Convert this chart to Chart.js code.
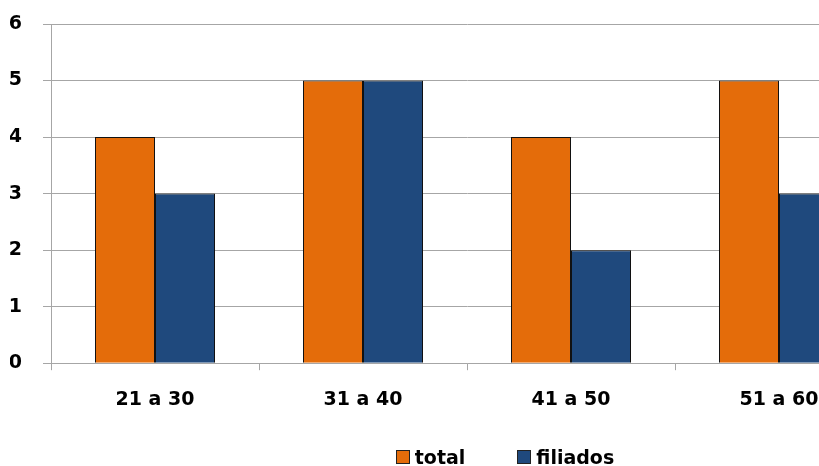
<!DOCTYPE html>
<html>
<head>
<meta charset="utf-8">
<script src="https://cdn.jsdelivr.net/npm/chart.js@4/dist/chart.umd.min.js"></script>
<style>
  html, body { margin: 0; padding: 0; background: #fff; overflow: hidden; }
  #wrap { position: relative; width: 819px; height: 466px; overflow: hidden; }
  #chart { position: absolute; left: 0; top: 0; }
  #legend {
    position: absolute; left: 0; top: 446px; width: 1010px;
    display: flex; justify-content: center; align-items: center;
    font: bold 19px "DejaVu Sans", sans-serif; color: #000; line-height: 22px;
  }
  .item { display: flex; align-items: center; margin: 0 26px; }
  .box { width: 14px; height: 14px; border: 1px solid #222; margin-right: 5px; box-sizing: border-box; }
</style>
</head>
<body>
<div id="wrap">
  <canvas id="chart" width="900" height="466"></canvas>
  <div id="legend"></div>
</div>
<script>
// data
const categories = ['21 a 30', '31 a 40', '41 a 50', '51 a 60']
const totalValues = [4, 5, 4, 5]
const filiadosValues = [3, 5, 2, 3]
const seriesNames = ['total', 'filiados']
const seriesColors = ['#E46C0A', '#1F497D']
const yMin = 0
const yMax = 6
const yStep = 1

const gridColor = '#a6a6a6'
const tickFont = { family: 'DejaVu Sans', size: 19, weight: 'bold' }

const chart = new Chart(document.getElementById('chart'), {
  type: 'bar',
  data: {
    labels: categories,
    datasets: [
      {
        label: seriesNames[0],
        data: totalValues,
        backgroundColor: seriesColors[0],
        borderColor: '#111',
        borderWidth: 1,
        categoryPercentage: 0.577,
        barPercentage: 1
      },
      {
        label: seriesNames[1],
        data: filiadosValues,
        backgroundColor: seriesColors[1],
        borderColor: '#111',
        borderWidth: 1,
        categoryPercentage: 0.577,
        barPercentage: 1
      }
    ]
  },
  options: {
    animation: false,
    responsive: false,
    devicePixelRatio: 1,
    layout: { padding: { left: 10, right: 17, top: 24, bottom: 37 } },
    plugins: {
      legend: { display: false },
      tooltip: { enabled: false }
    },
    scales: {
      x: {
        offset: true,
        grid: { display: true, offset: true, drawOnChartArea: false, drawTicks: true, tickLength: 7, color: gridColor },
        border: { display: true, color: gridColor },
        ticks: { color: '#000', font: tickFont, padding: 18, maxRotation: 0 }
      },
      y: {
        min: yMin,
        max: yMax,
        afterFit: (scale) => {
          scale.width = 41
          scale.paddingTop = 0
          scale.paddingBottom = 0
        },
        grid: { color: gridColor, tickLength: 8, drawTicks: true },
        border: { display: true, color: gridColor },
        ticks: { stepSize: yStep, color: '#000', font: tickFont, padding: 21 }
      }
    }
  }
})

// legend built from the chart's datasets
const legend = document.getElementById('legend')
chart.data.datasets.forEach(ds => {
  const item = document.createElement('div')
  item.className = 'item'
  const box = document.createElement('span')
  box.className = 'box'
  box.style.background = ds.backgroundColor
  const text = document.createElement('span')
  text.textContent = ds.label
  item.appendChild(box)
  item.appendChild(text)
  legend.appendChild(item)
})
</script>
</body>
</html>
